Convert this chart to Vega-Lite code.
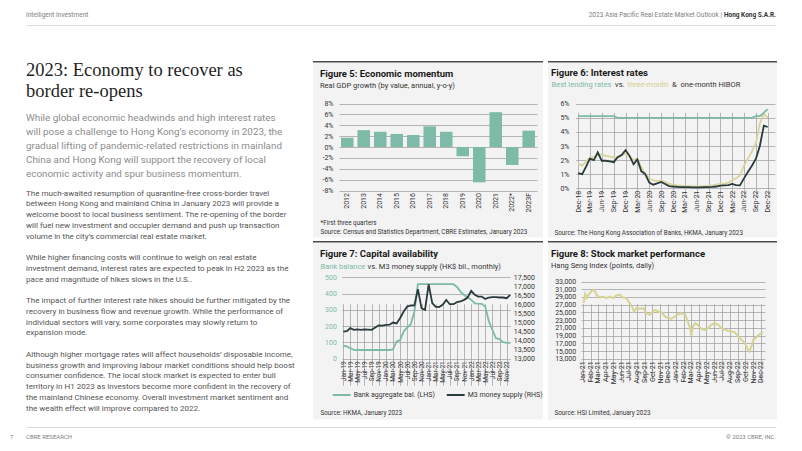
{
"$schema": "https://vega.github.io/schema/vega-lite/v6.json",
"background": "#ffffff",
"padding": {"left": 10, "right": 26, "top": 11, "bottom": 8},
"config": {
  "font": "Roboto",
  "view": {"stroke": null},
  "axis": {"domain": false, "ticks": false, "labelFont": "Roboto", "labelFontSize": 7, "labelColor": "#333333", "labelOverlap": false, "titleFont": "Roboto", "titleFontWeight": "normal", "gridColor": "#a3a3a3", "gridWidth": 0.8},
  "title": {"font": "Roboto", "anchor": "start", "frame": "group", "subtitleFont": "Roboto"},
  "legend": {"labelFont": "Roboto"}
},
"spacing": 35,
"vconcat": [
  {"spacing": 0, "hconcat": [
    {"width": 16, "height": 1, "data": {"values": []}, "mark": "point"},
    {"width": 410, "height": 1, "view": {"fill": "#dcdcdc"}, "data": {"values": []}, "mark": "point",
     "title": {"text": "Intelligent Investment", "fontSize": 6.5, "fontWeight": "normal", "color": "#808080", "offset": 7}},
    {"width": 286, "height": 1, "view": {"fill": "#dcdcdc"}, "data": {"values": []}, "mark": "point",
     "title": {"text": "2023 Asia Pacific Real Estate Market Outlook  |", "anchor": "end", "fontSize": 6.5, "fontWeight": "normal", "color": "#808080", "offset": 7}},
    {"width": 54, "height": 1, "view": {"fill": "#dcdcdc"}, "data": {"values": []}, "mark": "point",
     "title": {"text": "Hong Kong S.A.R.", "anchor": "end", "fontSize": 6.5, "fontWeight": "bold", "color": "#333333", "offset": 7}}
  ]},
  {"spacing": 7, "vconcat": [
    {"spacing": 0, "hconcat": [
      {"width": 16, "height": 1, "data": {"values": []}, "mark": "point"},
      {"spacing": 9.7, "vconcat": [
        {"width": 287, "height": 1, "data": {"values": []}, "mark": "point",
         "title": {"text": ["2023: Economy to recover as", "border re-opens"], "orient": "bottom", "font": "Liberation Serif", "fontSize": 18.5, "fontWeight": "normal", "color": "#1f1f1f", "lineHeight": 20.7,
           "subtitle": ["While global economic headwinds and high interest rates", "will pose a challenge to Hong Kong’s economy in 2023, the", "gradual lifting of pandemic-related restrictions in mainland", "China and Hong Kong will support the recovery of local", "economic activity and spur business momentum."],
           "subtitleFontSize": 9.9, "subtitleColor": "#8c8c8c", "subtitleLineHeight": 14, "subtitlePadding": 13, "offset": -1}},
        {"width": 287, "height": 1, "data": {"values": []}, "mark": "point",
         "title": {"text": [
           "The much-awaited resumption of quarantine-free cross-border travel",
           "between Hong Kong and mainland China in January 2023 will provide a",
           "welcome boost to local business sentiment. The re-opening of the border",
           "will fuel new investment and occupier demand and push up transaction",
           "volume in the city’s commercial real estate market."],
           "orient": "bottom", "fontSize": 8.05, "fontWeight": "normal", "color": "#555555", "lineHeight": 10.77, "offset": -1}},
        {"width": 287, "height": 1, "data": {"values": []}, "mark": "point",
         "title": {"text": [
           "While higher financing costs will continue to weigh on real estate",
           "investment demand, interest rates are expected to peak in H2 2023 as the",
           "pace and magnitude of hikes slows in the U.S.."],
           "orient": "bottom", "fontSize": 8.05, "fontWeight": "normal", "color": "#555555", "lineHeight": 10.77, "offset": 2}},
        {"width": 287, "height": 1, "data": {"values": []}, "mark": "point",
         "title": {"text": [
           "The impact of further interest rate hikes should be further mitigated by the",
           "recovery in business flow and revenue growth. While the performance of",
           "individual sectors will vary, some corporates may slowly return to",
           "expansion mode."],
           "orient": "bottom", "fontSize": 8.05, "fontWeight": "normal", "color": "#555555", "lineHeight": 10.77, "offset": 2}},
        {"width": 287, "height": 1, "data": {"values": []}, "mark": "point",
         "title": {"text": [
           "Although higher mortgage rates will affect households’ disposable income,",
           "business growth and improving labour market conditions should help boost",
           "consumer confidence. The local stock market is expected to enter bull",
           "territory in H1 2023 as investors become more confident in the recovery of",
           "the mainland Chinese economy. Overall investment market sentiment and",
           "the wealth effect will improve compared to 2022."],
           "orient": "bottom", "fontSize": 8.05, "fontWeight": "normal", "color": "#555555", "lineHeight": 10.77, "offset": 2}}
      ]},
      {"spacing": 3, "vconcat": [
        {"spacing": 5, "hconcat": [
          {"spacing": 0, "vconcat": [
            {"width": 230, "height": 1.5, "view": {"fill": "#4a4a4a"}, "data": {"values": []}, "mark": "point"},
            {"width": 230, "height": 174.5, "view": {"fill": "#f3f3f3"},
             "title": {"text": "Figure 5:  Economic momentum", "subtitle": "Real GDP growth (by value, annual, y-o-y)", "fontSize": 9.5, "fontWeight": "bold", "color": "#1a1a1a", "subtitleFontSize": 7.5, "subtitleColor": "#333333", "subtitlePadding": 3, "dx": 7, "offset": -26},
             "data": {"values": [
               {"year": "2012", "g": 1.7}, {"year": "2013", "g": 3.1}, {"year": "2014", "g": 2.8}, {"year": "2015", "g": 2.4},
               {"year": "2016", "g": 2.2}, {"year": "2017", "g": 3.8}, {"year": "2018", "g": 2.8}, {"year": "2019", "g": -1.7},
               {"year": "2020", "g": -6.5}, {"year": "2021", "g": 6.4}, {"year": "2022*", "g": -3.3}, {"year": "2023F", "g": 3.0}]},
             "mark": {"type": "bar", "color": "#7dbaa8"},
             "encoding": {
               "x": {"field": "year", "type": "nominal", "sort": null,
                 "scale": {"range": [26, 224], "paddingInner": 0.24, "paddingOuter": 0.12},
                 "axis": {"orient": "bottom", "offset": -47, "labelAngle": -90, "labelPadding": 2, "labelFontSize": 7,
                   "title": ["*First three quarters", "Source: Census and Statistics Department, CBRE Estimates, January 2023"],
                   "titleFontSize": 6.3, "titleColor": "#333333", "titleAnchor": "start", "titleAlign": "left", "titleBaseline": "alphabetic", "titleX": 7, "titleY": 34, "titleLineHeight": 9}},
               "y": {"field": "g", "type": "quantitative",
                 "scale": {"domain": [-8, 8], "range": [127.5, 40.5], "nice": false},
                 "axis": {"values": [-8, -6, -4, -2, 0, 2, 4, 6, 8], "labelExpr": "datum.value + '%'", "offset": -26, "labelPadding": 6, "grid": true, "title": null}}
             }}
          ]},
          {"spacing": 0, "resolve": {"scale": {"color": "independent"}, "legend": {"color": "independent"}}, "vconcat": [
            {"width": 229, "height": 1.5, "view": {"fill": "#4a4a4a"}, "data": {"values": []}, "mark": "point"},
            {"width": 229, "height": 174.5, "view": {"fill": "#f3f3f3"},
             "title": {"text": "Figure 6: Interest rates", "fontSize": 9.5, "fontWeight": "bold", "color": "#1a1a1a", "dx": 3, "offset": -14.5},
             "data": {"values": [
               {"d": "2018-12-01", "Best lending rates": 5.125, "three-month": 1.75, "one-month HIBOR": 1.07},
               {"d": "2019-01-01", "Best lending rates": 5.125, "three-month": 1.6, "one-month HIBOR": 1.0},
               {"d": "2019-02-01", "Best lending rates": 5.125, "three-month": 1.9, "one-month HIBOR": 1.55},
               {"d": "2019-03-01", "Best lending rates": 5.125, "three-month": 2.15, "one-month HIBOR": 2.1},
               {"d": "2019-04-01", "Best lending rates": 5.125, "three-month": 2.2, "one-month HIBOR": 2.0},
               {"d": "2019-05-01", "Best lending rates": 5.125, "three-month": 2.35, "one-month HIBOR": 2.55},
               {"d": "2019-06-01", "Best lending rates": 5.125, "three-month": 2.4, "one-month HIBOR": 1.95},
               {"d": "2019-07-01", "Best lending rates": 5.125, "three-month": 2.3, "one-month HIBOR": 1.95},
               {"d": "2019-08-01", "Best lending rates": 5.125, "three-month": 2.25, "one-month HIBOR": 1.9},
               {"d": "2019-09-01", "Best lending rates": 5.125, "three-month": 2.2, "one-month HIBOR": 1.85},
               {"d": "2019-10-01", "Best lending rates": 5.0, "three-month": 2.15, "one-month HIBOR": 2.2},
               {"d": "2019-11-01", "Best lending rates": 5.0, "three-month": 2.35, "one-month HIBOR": 2.35},
               {"d": "2019-12-01", "Best lending rates": 5.0, "three-month": 2.45, "one-month HIBOR": 2.7},
               {"d": "2020-01-01", "Best lending rates": 5.0, "three-month": 2.25, "one-month HIBOR": 2.3},
               {"d": "2020-02-01", "Best lending rates": 5.0, "three-month": 2.0, "one-month HIBOR": 1.7},
               {"d": "2020-03-01", "Best lending rates": 5.0, "three-month": 2.1, "one-month HIBOR": 2.05},
               {"d": "2020-04-01", "Best lending rates": 5.0, "three-month": 1.5, "one-month HIBOR": 1.2},
               {"d": "2020-05-01", "Best lending rates": 5.0, "three-month": 1.0, "one-month HIBOR": 1.0},
               {"d": "2020-06-01", "Best lending rates": 5.0, "three-month": 0.7, "one-month HIBOR": 0.4},
               {"d": "2020-07-01", "Best lending rates": 5.0, "three-month": 0.55, "one-month HIBOR": 0.25},
               {"d": "2020-08-01", "Best lending rates": 5.0, "three-month": 0.5, "one-month HIBOR": 0.35},
               {"d": "2020-09-01", "Best lending rates": 5.0, "three-month": 0.55, "one-month HIBOR": 0.45},
               {"d": "2020-10-01", "Best lending rates": 5.0, "three-month": 0.45, "one-month HIBOR": 0.3},
               {"d": "2020-11-01", "Best lending rates": 5.0, "three-month": 0.3, "one-month HIBOR": 0.15},
               {"d": "2020-12-01", "Best lending rates": 5.0, "three-month": 0.25, "one-month HIBOR": 0.12},
               {"d": "2021-01-01", "Best lending rates": 5.0, "three-month": 0.2, "one-month HIBOR": 0.1},
               {"d": "2021-02-01", "Best lending rates": 5.0, "three-month": 0.18, "one-month HIBOR": 0.08},
               {"d": "2021-03-01", "Best lending rates": 5.0, "three-month": 0.16, "one-month HIBOR": 0.08},
               {"d": "2021-04-01", "Best lending rates": 5.0, "three-month": 0.15, "one-month HIBOR": 0.07},
               {"d": "2021-05-01", "Best lending rates": 5.0, "three-month": 0.13, "one-month HIBOR": 0.06},
               {"d": "2021-06-01", "Best lending rates": 5.0, "three-month": 0.13, "one-month HIBOR": 0.06},
               {"d": "2021-07-01", "Best lending rates": 5.0, "three-month": 0.13, "one-month HIBOR": 0.06},
               {"d": "2021-08-01", "Best lending rates": 5.0, "three-month": 0.14, "one-month HIBOR": 0.07},
               {"d": "2021-09-01", "Best lending rates": 5.0, "three-month": 0.16, "one-month HIBOR": 0.07},
               {"d": "2021-10-01", "Best lending rates": 5.0, "three-month": 0.2, "one-month HIBOR": 0.09},
               {"d": "2021-11-01", "Best lending rates": 5.0, "three-month": 0.25, "one-month HIBOR": 0.12},
               {"d": "2021-12-01", "Best lending rates": 5.0, "three-month": 0.3, "one-month HIBOR": 0.18},
               {"d": "2022-01-01", "Best lending rates": 5.0, "three-month": 0.32, "one-month HIBOR": 0.2},
               {"d": "2022-02-01", "Best lending rates": 5.0, "three-month": 0.4, "one-month HIBOR": 0.22},
               {"d": "2022-03-01", "Best lending rates": 5.0, "three-month": 0.55, "one-month HIBOR": 0.3},
               {"d": "2022-04-01", "Best lending rates": 5.0, "three-month": 0.7, "one-month HIBOR": 0.22},
               {"d": "2022-05-01", "Best lending rates": 5.0, "three-month": 0.9, "one-month HIBOR": 0.2},
               {"d": "2022-06-01", "Best lending rates": 5.0, "three-month": 1.6, "one-month HIBOR": 0.7},
               {"d": "2022-07-01", "Best lending rates": 5.0, "three-month": 2.1, "one-month HIBOR": 1.15},
               {"d": "2022-08-01", "Best lending rates": 5.0, "three-month": 2.6, "one-month HIBOR": 1.6},
               {"d": "2022-09-01", "Best lending rates": 5.125, "three-month": 3.2, "one-month HIBOR": 2.1},
               {"d": "2022-10-01", "Best lending rates": 5.125, "three-month": 4.6, "one-month HIBOR": 3.0},
               {"d": "2022-11-01", "Best lending rates": 5.375, "three-month": 5.3, "one-month HIBOR": 4.45},
               {"d": "2022-12-01", "Best lending rates": 5.625, "three-month": 5.0, "one-month HIBOR": 4.35}]},
             "transform": [{"fold": ["three-month", "one-month HIBOR", "Best lending rates"], "as": ["s", "v"]}],
             "mark": {"type": "line", "strokeWidth": 1.8},
             "encoding": {
               "x": {"field": "d", "type": "temporal",
                 "scale": {"type": "utc", "domain": [{"year": 2018, "month": 11, "date": 12, "utc": true}, {"year": 2023, "month": 1, "date": 26, "utc": true}], "range": [27.7, 227]},
                 "axis": {"orient": "bottom", "offset": -49.3, "labelAngle": -90, "labelPadding": 2, "labelFontSize": 7,
                   "values": [{"year": 2018, "month": 12, "date": 1, "utc": true}, {"year": 2019, "month": 3, "date": 1, "utc": true}, {"year": 2019, "month": 6, "date": 1, "utc": true}, {"year": 2019, "month": 9, "date": 1, "utc": true}, {"year": 2019, "month": 12, "date": 1, "utc": true}, {"year": 2020, "month": 3, "date": 1, "utc": true}, {"year": 2020, "month": 6, "date": 1, "utc": true}, {"year": 2020, "month": 9, "date": 1, "utc": true}, {"year": 2020, "month": 12, "date": 1, "utc": true}, {"year": 2021, "month": 3, "date": 1, "utc": true}, {"year": 2021, "month": 6, "date": 1, "utc": true}, {"year": 2021, "month": 9, "date": 1, "utc": true}, {"year": 2021, "month": 12, "date": 1, "utc": true}, {"year": 2022, "month": 3, "date": 1, "utc": true}, {"year": 2022, "month": 6, "date": 1, "utc": true}, {"year": 2022, "month": 9, "date": 1, "utc": true}, {"year": 2022, "month": 12, "date": 1, "utc": true}],
                   "labelExpr": "utcFormat(datum.value, '%b-%y')",
                   "title": "Source: The Hong Kong Association of Banks, HKMA, January 2023",
                   "titleFontSize": 6.3, "titleColor": "#333333", "titleAnchor": "start", "titleAlign": "left", "titleBaseline": "alphabetic", "titleX": 6, "titleY": 46.3}},
               "y": {"field": "v", "type": "quantitative",
                 "scale": {"domain": [0, 6], "range": [125.2, 40.8], "nice": false},
                 "axis": {"values": [0, 1, 2, 3, 4, 5, 6], "labelExpr": "datum.value + '%'", "offset": -27.7, "labelPadding": 6.7, "grid": true, "title": null}},
               "color": {"field": "s", "type": "nominal",
                 "scale": {"domain": ["Best lending rates", "vs.", "three-month", "&", "one-month HIBOR"], "range": ["#7dbaa8", "#333333", "#d8d59c", "#333333", "#2b3a3c"]},
                 "legend": {"orient": "none", "legendX": 3, "legendY": 18, "direction": "horizontal", "title": null, "symbolSize": 0.01, "symbolStrokeWidth": 0.01, "symbolOpacity": 0, "labelOffset": -7, "columnPadding": 2.5, "padding": 0, "labelFontSize": 7.5, "labelColor": "#333333",
                   "encode": {"labels": {"update": {"fill": {"signal": "datum.value === 'Best lending rates' ? '#7dbaa8' : (datum.value === 'three-month' ? '#d3cf8e' : '#333333')"}}}}}}
             }}
          ]}
        ]},
        {"spacing": 5, "hconcat": [
          {"spacing": 0, "resolve": {"scale": {"color": "independent"}, "legend": {"color": "independent"}}, "vconcat": [
            {"width": 230, "height": 1.5, "view": {"fill": "#4a4a4a"}, "data": {"values": []}, "mark": "point"},
            {"width": 230, "height": 176.5, "view": {"fill": "#f3f3f3"},
             "title": {"text": "Figure 7:  Capital availability", "fontSize": 9.5, "fontWeight": "bold", "color": "#1a1a1a", "dx": 7, "offset": -15.5},
             "data": {"values": [
               {"d": "2019-01-01", "bal": 80, "m3": 14500}, {"d": "2019-02-01", "bal": 76, "m3": 14520}, {"d": "2019-03-01", "bal": 65, "m3": 14690},
               {"d": "2019-04-01", "bal": 55, "m3": 14600}, {"d": "2019-05-01", "bal": 54, "m3": 14620}, {"d": "2019-06-01", "bal": 54, "m3": 14600},
               {"d": "2019-07-01", "bal": 54, "m3": 14620}, {"d": "2019-08-01", "bal": 54, "m3": 14610}, {"d": "2019-09-01", "bal": 54, "m3": 14600},
               {"d": "2019-10-01", "bal": 54, "m3": 14730}, {"d": "2019-11-01", "bal": 54, "m3": 14840}, {"d": "2019-12-01", "bal": 54, "m3": 14830},
               {"d": "2020-01-01", "bal": 54, "m3": 14870}, {"d": "2020-02-01", "bal": 54, "m3": 14880}, {"d": "2020-03-01", "bal": 57, "m3": 15000},
               {"d": "2020-04-01", "bal": 106, "m3": 14950}, {"d": "2020-05-01", "bal": 114, "m3": 15240}, {"d": "2020-06-01", "bal": 167, "m3": 15610},
               {"d": "2020-07-01", "bal": 192, "m3": 15880}, {"d": "2020-08-01", "bal": 212, "m3": 15940}, {"d": "2020-09-01", "bal": 290, "m3": 15950},
               {"d": "2020-10-01", "bal": 457, "m3": 16840}, {"d": "2020-11-01", "bal": 457, "m3": 15790}, {"d": "2020-12-01", "bal": 457, "m3": 15700},
               {"d": "2021-01-01", "bal": 457, "m3": 17110}, {"d": "2021-02-01", "bal": 457, "m3": 16070}, {"d": "2021-03-01", "bal": 457, "m3": 15880},
               {"d": "2021-04-01", "bal": 457, "m3": 15850}, {"d": "2021-05-01", "bal": 457, "m3": 15975}, {"d": "2021-06-01", "bal": 457, "m3": 16250},
               {"d": "2021-07-01", "bal": 457, "m3": 16010}, {"d": "2021-08-01", "bal": 457, "m3": 16010}, {"d": "2021-09-01", "bal": 440, "m3": 16120},
               {"d": "2021-10-01", "bal": 412, "m3": 16160}, {"d": "2021-11-01", "bal": 390, "m3": 16250}, {"d": "2021-12-01", "bal": 377, "m3": 16380},
               {"d": "2022-01-01", "bal": 361, "m3": 16750}, {"d": "2022-02-01", "bal": 340, "m3": 16530}, {"d": "2022-03-01", "bal": 338, "m3": 16430},
               {"d": "2022-04-01", "bal": 337, "m3": 16430}, {"d": "2022-05-01", "bal": 320, "m3": 16300}, {"d": "2022-06-01", "bal": 230, "m3": 16380},
               {"d": "2022-07-01", "bal": 178, "m3": 16400}, {"d": "2022-08-01", "bal": 126, "m3": 16400}, {"d": "2022-09-01", "bal": 121, "m3": 16380},
               {"d": "2022-10-01", "bal": 102, "m3": 16380}, {"d": "2022-11-01", "bal": 97, "m3": 16340}, {"d": "2022-12-01", "bal": 97, "m3": 16530}]},
             "encoding": {
               "x": {"field": "d", "type": "temporal",
                 "scale": {"type": "utc", "domain": [{"year": 2018, "month": 12, "date": 18, "utc": true}, {"year": 2022, "month": 12, "date": 1, "utc": true}], "range": [28.7, 197.2]},
                 "axis": {"orient": "bottom", "offset": -60.7, "labelAngle": -90, "labelPadding": 2, "labelFontSize": 6.5, "labelOverlap": false, "labelBound": false, "labelFlush": false,
                   "values": [{"year": 2019, "month": 1, "date": 1, "utc": true}, {"year": 2019, "month": 3, "date": 1, "utc": true}, {"year": 2019, "month": 5, "date": 1, "utc": true}, {"year": 2019, "month": 7, "date": 1, "utc": true}, {"year": 2019, "month": 9, "date": 1, "utc": true}, {"year": 2019, "month": 11, "date": 1, "utc": true}, {"year": 2020, "month": 1, "date": 1, "utc": true}, {"year": 2020, "month": 3, "date": 1, "utc": true}, {"year": 2020, "month": 5, "date": 1, "utc": true}, {"year": 2020, "month": 7, "date": 1, "utc": true}, {"year": 2020, "month": 9, "date": 1, "utc": true}, {"year": 2020, "month": 11, "date": 1, "utc": true}, {"year": 2021, "month": 1, "date": 1, "utc": true}, {"year": 2021, "month": 3, "date": 1, "utc": true}, {"year": 2021, "month": 5, "date": 1, "utc": true}, {"year": 2021, "month": 7, "date": 1, "utc": true}, {"year": 2021, "month": 9, "date": 1, "utc": true}, {"year": 2021, "month": 11, "date": 1, "utc": true}, {"year": 2022, "month": 1, "date": 1, "utc": true}, {"year": 2022, "month": 3, "date": 1, "utc": true}, {"year": 2022, "month": 5, "date": 1, "utc": true}, {"year": 2022, "month": 7, "date": 1, "utc": true}, {"year": 2022, "month": 9, "date": 1, "utc": true}, {"year": 2022, "month": 11, "date": 1, "utc": true}],
                   "labelExpr": "utcFormat(datum.value, '%b-%y')",
                   "title": "Source: HKMA, January 2023",
                   "titleFontSize": 6.3, "titleColor": "#333333", "titleAnchor": "start", "titleAlign": "left", "titleBaseline": "alphabetic", "titleX": 7, "titleY": 55.4}}
             },
             "layer": [
               {"mark": {"type": "line", "strokeWidth": 1.8},
                "encoding": {
                  "y": {"field": "bal", "type": "quantitative",
                    "scale": {"domain": [0, 500], "range": [115.8, 34.2], "nice": false},
                    "axis": {"orient": "left", "values": [0, 100, 200, 300, 400, 500], "offset": -28.7, "labelPadding": 5.3, "labelColor": "#7dbaa8", "grid": true,
                      "title": "Bank balance", "titleColor": "#7dbaa8", "titleFontSize": 7.5, "titleAngle": 0, "titleAlign": "left", "titleBaseline": "alphabetic", "titleX": -21.7, "titleY": 25.2}},
                  "color": {"datum": "Bank aggregate bal. (LHS)",
                    "scale": {"domain": ["Bank aggregate bal. (LHS)", "M3 money supply (RHS)"], "range": ["#7dbaa8", "#2b3a3c"]},
                    "legend": {"orient": "none", "legendX": 18.7, "legendY": 142, "direction": "horizontal", "title": null, "symbolType": "stroke", "symbolSize": 320, "symbolStrokeWidth": 2, "labelOffset": 2, "columnPadding": 7, "padding": 0, "labelFontSize": 7, "labelColor": "#333333"}}
                }},
               {"mark": {"type": "line", "strokeWidth": 1.8},
                "encoding": {
                  "y": {"field": "m3", "type": "quantitative",
                    "scale": {"domain": [13000, 17500], "range": [115.8, 34.2], "nice": false},
                    "axis": {"orient": "right", "values": [13000, 13500, 14000, 14500, 15000, 15500, 16000, 16500, 17000, 17500], "format": ",.0f", "offset": -34, "labelPadding": 4.3, "grid": false,
                      "title": "vs. M3 money supply (HK$ bil., monthly)", "titleColor": "#333333", "titleFontSize": 7.5, "titleAngle": 0, "titleAlign": "left", "titleBaseline": "alphabetic", "titleX": -142, "titleY": 25.2}},
                  "color": {"datum": "M3 money supply (RHS)"}
                }}
             ],
             "resolve": {"scale": {"y": "independent"}}}
          ]},
          {"spacing": 0, "vconcat": [
            {"width": 229, "height": 1.5, "view": {"fill": "#4a4a4a"}, "data": {"values": []}, "mark": "point"},
            {"width": 229, "height": 176.5, "view": {"fill": "#f3f3f3"},
             "title": {"text": "Figure 8:  Stock market performance", "subtitle": "Hang Seng Index (points, daily)", "fontSize": 9.5, "fontWeight": "bold", "color": "#1a1a1a", "subtitleFontSize": 7.5, "subtitleColor": "#333333", "subtitlePadding": 3, "dx": 3, "offset": -26},
             "data": {"values": [
               {"d": "2021-01-04", "hsi": 27400}, {"d": "2021-01-10", "hsi": 29700}, {"d": "2021-01-16", "hsi": 28700}, {"d": "2021-01-23", "hsi": 29550},
               {"d": "2021-02-05", "hsi": 30600}, {"d": "2021-02-15", "hsi": 30850}, {"d": "2021-02-24", "hsi": 29550}, {"d": "2021-03-08", "hsi": 28860},
               {"d": "2021-03-21", "hsi": 29100}, {"d": "2021-04-04", "hsi": 28700}, {"d": "2021-04-17", "hsi": 29100}, {"d": "2021-04-30", "hsi": 28700},
               {"d": "2021-05-13", "hsi": 29400}, {"d": "2021-05-26", "hsi": 29550}, {"d": "2021-06-08", "hsi": 28860}, {"d": "2021-06-21", "hsi": 28700},
               {"d": "2021-07-04", "hsi": 27400}, {"d": "2021-07-13", "hsi": 26530}, {"d": "2021-07-21", "hsi": 25240}, {"d": "2021-07-30", "hsi": 26100},
               {"d": "2021-08-12", "hsi": 25930}, {"d": "2021-08-26", "hsi": 26100}, {"d": "2021-09-08", "hsi": 24800}, {"d": "2021-09-21", "hsi": 24380},
               {"d": "2021-09-30", "hsi": 25070}, {"d": "2021-10-11", "hsi": 25670}, {"d": "2021-10-24", "hsi": 25240}, {"d": "2021-11-06", "hsi": 25070},
               {"d": "2021-11-19", "hsi": 23950}, {"d": "2021-12-02", "hsi": 23520}, {"d": "2021-12-15", "hsi": 23350}, {"d": "2021-12-28", "hsi": 23950},
               {"d": "2022-01-11", "hsi": 24550}, {"d": "2022-01-24", "hsi": 24800}, {"d": "2022-02-06", "hsi": 24550}, {"d": "2022-02-17", "hsi": 22650},
               {"d": "2022-02-26", "hsi": 20930}, {"d": "2022-03-03", "hsi": 19030}, {"d": "2022-03-09", "hsi": 21360}, {"d": "2022-03-18", "hsi": 22220},
               {"d": "2022-03-28", "hsi": 21790}, {"d": "2022-04-11", "hsi": 20760}, {"d": "2022-04-24", "hsi": 20500}, {"d": "2022-05-07", "hsi": 20930},
               {"d": "2022-05-20", "hsi": 21790}, {"d": "2022-06-02", "hsi": 22220}, {"d": "2022-06-16", "hsi": 21790}, {"d": "2022-06-29", "hsi": 20930},
               {"d": "2022-07-12", "hsi": 20500}, {"d": "2022-07-25", "hsi": 20240}, {"d": "2022-08-07", "hsi": 20070}, {"d": "2022-08-20", "hsi": 19900},
               {"d": "2022-09-03", "hsi": 18780}, {"d": "2022-09-16", "hsi": 17910}, {"d": "2022-09-29", "hsi": 17050}, {"d": "2022-10-12", "hsi": 15330},
               {"d": "2022-10-16", "hsi": 14900}, {"d": "2022-10-25", "hsi": 16190}, {"d": "2022-11-01", "hsi": 17910}, {"d": "2022-11-10", "hsi": 18340},
               {"d": "2022-11-20", "hsi": 19030}, {"d": "2022-12-01", "hsi": 19640}, {"d": "2022-12-10", "hsi": 19900}]},
             "mark": {"type": "line", "color": "#d6d396", "strokeWidth": 2},
             "encoding": {
               "x": {"field": "d", "type": "temporal",
                 "scale": {"type": "utc", "domain": [{"year": 2020, "month": 12, "date": 25, "utc": true}, {"year": 2022, "month": 12, "date": 17, "utc": true}], "range": [33, 217]},
                 "axis": {"orient": "bottom", "offset": -60.7, "labelAngle": -90, "labelPadding": 2, "labelFontSize": 7,
                   "values": [{"year": 2021, "month": 1, "date": 1, "utc": true}, {"year": 2021, "month": 2, "date": 1, "utc": true}, {"year": 2021, "month": 3, "date": 1, "utc": true}, {"year": 2021, "month": 4, "date": 1, "utc": true}, {"year": 2021, "month": 5, "date": 1, "utc": true}, {"year": 2021, "month": 6, "date": 1, "utc": true}, {"year": 2021, "month": 7, "date": 1, "utc": true}, {"year": 2021, "month": 8, "date": 1, "utc": true}, {"year": 2021, "month": 9, "date": 1, "utc": true}, {"year": 2021, "month": 10, "date": 1, "utc": true}, {"year": 2021, "month": 11, "date": 1, "utc": true}, {"year": 2021, "month": 12, "date": 1, "utc": true}, {"year": 2022, "month": 1, "date": 1, "utc": true}, {"year": 2022, "month": 2, "date": 1, "utc": true}, {"year": 2022, "month": 3, "date": 1, "utc": true}, {"year": 2022, "month": 4, "date": 1, "utc": true}, {"year": 2022, "month": 5, "date": 1, "utc": true}, {"year": 2022, "month": 6, "date": 1, "utc": true}, {"year": 2022, "month": 7, "date": 1, "utc": true}, {"year": 2022, "month": 8, "date": 1, "utc": true}, {"year": 2022, "month": 9, "date": 1, "utc": true}, {"year": 2022, "month": 10, "date": 1, "utc": true}, {"year": 2022, "month": 11, "date": 1, "utc": true}, {"year": 2022, "month": 12, "date": 1, "utc": true}],
                   "labelExpr": "utcFormat(datum.value, '%b-%y')",
                   "title": "Source: HSI Limited, January 2023",
                   "titleFontSize": 6.3, "titleColor": "#333333", "titleAnchor": "start", "titleAlign": "left", "titleBaseline": "alphabetic", "titleX": 6, "titleY": 55.4}},
               "y": {"field": "hsi", "type": "quantitative",
                 "scale": {"domain": [13000, 33000], "range": [115.8, 38.5], "nice": false},
                 "axis": {"values": [13000, 15000, 17000, 19000, 21000, 23000, 25000, 27000, 29000, 31000, 33000], "format": ",.0f", "offset": -33, "labelPadding": 5.3, "grid": true, "title": null}}
             }}
          ]}
        ]}
      ]}
    ]},
    {"spacing": 0, "hconcat": [
      {"width": 16, "height": 1, "data": {"values": []}, "mark": "point",
       "title": {"text": "7", "orient": "bottom", "fontSize": 6, "fontWeight": "normal", "color": "#808080", "offset": 6}},
      {"width": 375, "height": 1, "view": {"fill": "#dcdcdc"}, "data": {"values": []}, "mark": "point",
       "title": {"text": "CBRE RESEARCH", "orient": "bottom", "fontSize": 6, "fontWeight": "normal", "color": "#808080", "offset": 6}},
      {"width": 375, "height": 1, "view": {"fill": "#dcdcdc"}, "data": {"values": []}, "mark": "point",
       "title": {"text": "© 2023 CBRE, INC.", "orient": "bottom", "anchor": "end", "fontSize": 6, "fontWeight": "normal", "color": "#808080", "offset": 6}}
    ]}
  ]}
]
}
